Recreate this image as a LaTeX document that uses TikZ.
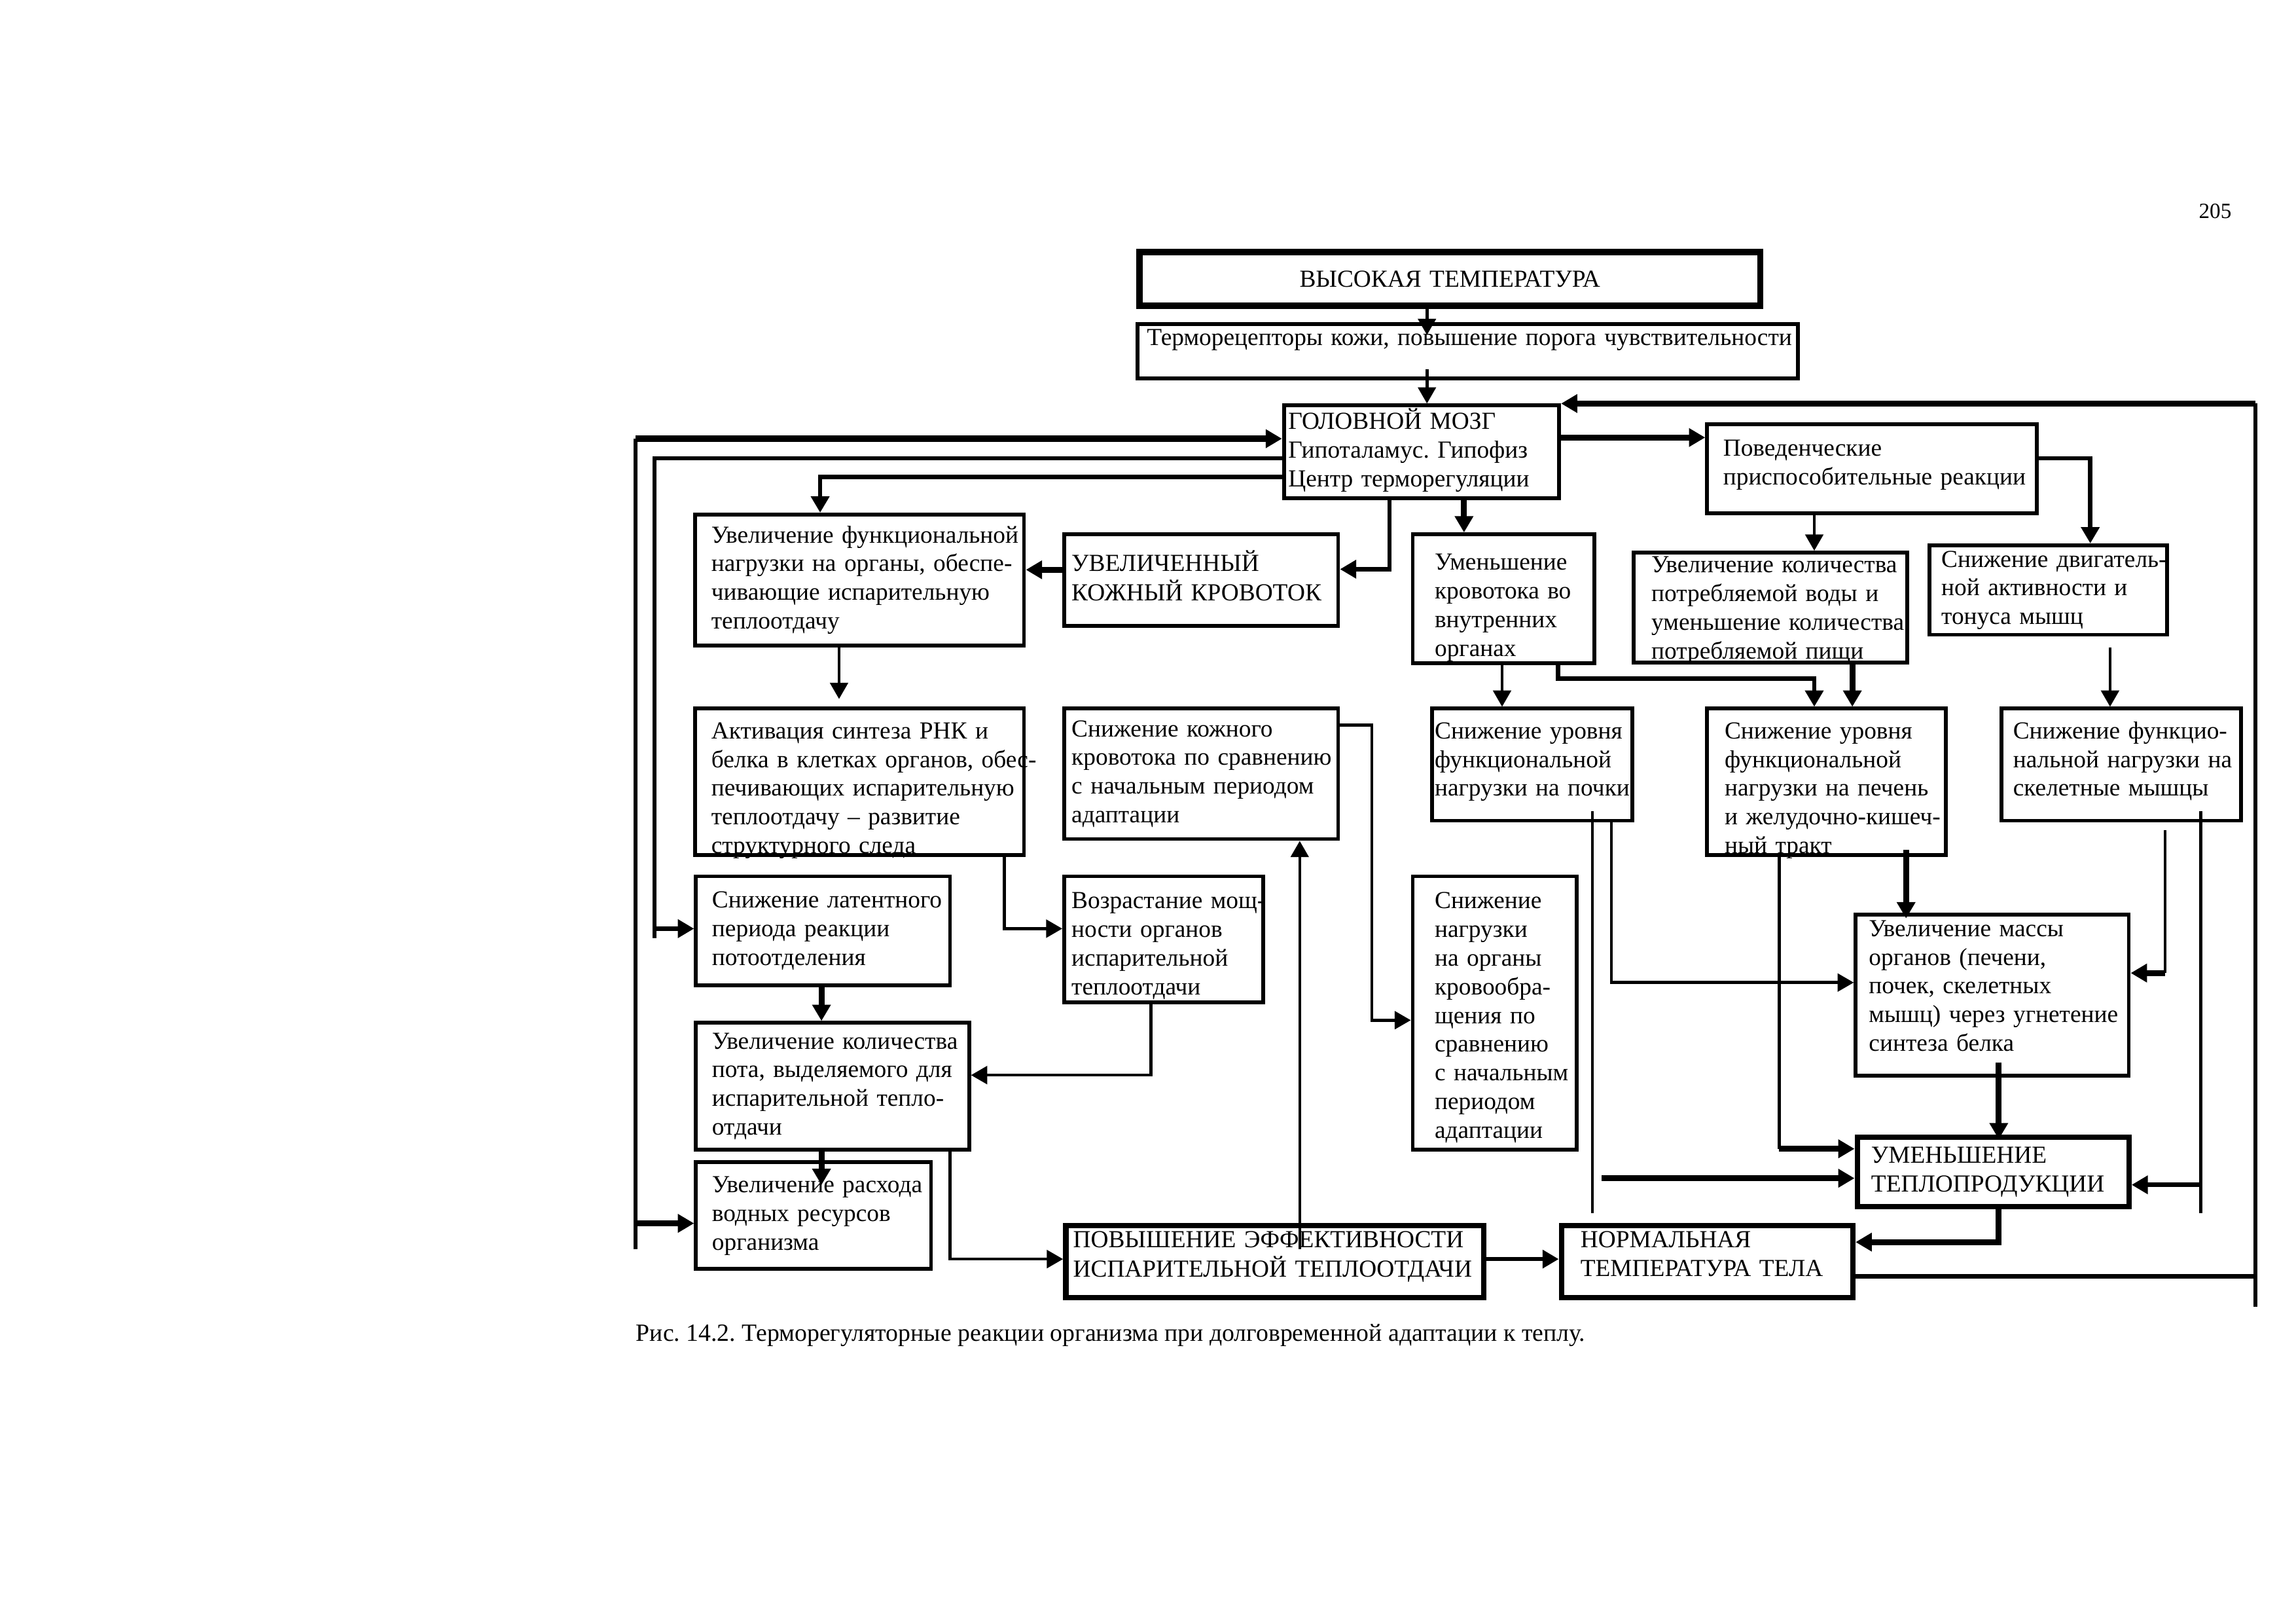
\documentclass[tikz,border=0pt]{standalone}
\usepackage{fontspec}
\setmainfont{Liberation Serif}
\usepackage{tikz}
\usetikzlibrary{calc,arrows.meta}
\newcommand{\pu}{0.18941mm}
\newcommand{\ls}[1]{\begin{tabular}[t]{@{}l@{}}#1\end{tabular}}
\frenchspacing

\begin{document}
\begin{tikzpicture}[x=\pu, y=-\pu, >={Triangle[length=2.1mm,width=2.3mm]}]
	\tikzset{
	    box/.style={draw, line width=1.4pt, anchor=north west, inner xsep=10*\pu, inner ysep=0pt, font=\fontsize{9}{10.55}\selectfont},
	    boldbox/.style={box, line width=2pt},
	    thinln/.style={line width=1.1pt},
	    midln/.style={line width=1.6pt},
	    thickln/.style={line width=2.2pt}
	}
	\useasboundingbox (0,0) rectangle (1568,1108);

	\node[anchor=base east, inner sep=0pt, font=\fontsize{8}{9.6}\selectfont] (pagenum) at (1524.3,149) {205};

	\node[boldbox, line width=2.3pt, align=center, text width=404*\pu, minimum height=36.5*\pu] (high) at (776,170) {ВЫСОКАЯ ТЕМПЕРАТУРА};
	\node[box, inner xsep=6.5*\pu, text width=438*\pu, text height=2.78mm, text depth=4.22mm] (recep) at (775.5,220) {\mbox{Терморецепторы кожи, повышение порога чувствительности}};
	\node[box, inner xsep=3*\pu, text width=182*\pu, minimum height=63.5*\pu] (brain) at (875.5,275.5) {\ls{ГОЛОВНОЙ МОЗГ\\Гипоталамус. Гипофиз\\Центр терморегуляции}};
	\node[box, inner xsep=11*\pu, text width=203*\pu, text height=4.07mm, text depth=7.39mm] (behav) at (1164.5,288.5) {\ls{Поведенческие\\приспособительные реакции}};

	\node[box, inner xsep=11*\pu, text width=202.5*\pu, minimum height=89.5*\pu] (func) at (473.5,350) {\ls{Увеличение функциональной\\нагрузки на органы, обеспе-\\чивающие испарительную\\теплоотдачу}};
	\node[box, inner xsep=5*\pu, text width=177*\pu, minimum height=62.5*\pu] (skin) at (725.5,363.5) {\ls{УВЕЛИЧЕННЫЙ\\КОЖНЫЙ КРОВОТОК}};
	\node[box, inner xsep=15*\pu, text width=94*\pu, text height=4.64mm, text depth=12.03mm] (inner) at (963.5,363.5) {\ls{Уменьшение\\кровотока во\\внутренних\\органах}};
	\node[box, inner xsep=12*\pu, text width=162.5*\pu, minimum height=75*\pu, text depth=11.6mm] (water) at (1114.5,376) {\ls{Увеличение количества\\потребляемой воды и\\уменьшение количества\\потребляемой пищи}};
	\node[box, inner xsep=8*\pu, text width=146*\pu, minimum height=61*\pu] (motor) at (1316.5,371) {\ls{Снижение двигатель-\\ной активности и\\тонуса мышц}};

	\node[box, inner xsep=11*\pu, text width=202.5*\pu, text height=3.88mm, text depth=15.06mm] (rna) at (473.5,482.5) {\ls{Активация синтеза РНК и\\белка в клетках органов, обес-\\печивающих испарительную\\теплоотдачу – развитие\\структурного следа}};
	\node[box, inner xsep=5*\pu, text width=177*\pu, minimum height=89*\pu] (skinlow) at (725.5,482.5) {\ls{Снижение кожного\\кровотока по сравнению\\с начальным периодом\\адаптации}};
	\node[box, inner xsep=2*\pu, text width=133*\pu, text height=3.88mm, text depth=10.61mm] (kidney) at (976.5,482.5) {\ls{Снижение уровня\\функциональной\\нагрузки на почки}};
	\node[box, inner xsep=12*\pu, text width=139*\pu, text height=3.88mm, text depth=15.06mm] (liver) at (1164.5,482.5) {\ls{Снижение уровня\\функциональной\\нагрузки на печень\\и желудочно-кишеч-\\ный тракт}};
	\node[box, inner xsep=8*\pu, text width=147.5*\pu, text height=3.88mm, text depth=10.61mm] (muscle) at (1365.5,482.5) {\ls{Снижение функцио-\\нальной нагрузки на\\скелетные мышцы}};

	\node[box, inner xsep=11*\pu, text width=151.5*\pu, minimum height=74.5*\pu] (latent) at (474,597) {\ls{Снижение латентного\\периода реакции\\потоотделения}};
	\node[box, inner xsep=5*\pu, text width=126*\pu, text height=4.17mm, text depth=12.12mm] (power) at (725.5,597) {\ls{Возрастание мощ-\\ности органов\\испарительной\\теплоотдачи}};
	\node[box, inner xsep=15*\pu, text width=82*\pu, text height=4.17mm, text depth=31.16mm] (blood) at (963.5,597) {\ls{Снижение\\нагрузки\\на органы\\кровообра-\\щения по\\сравнению\\с начальным\\периодом\\адаптации}};
	\node[box, inner xsep=9*\pu, text width=168.5*\pu, text height=2.84mm, text depth=17.99mm] (mass) at (1266,623) {\ls{Увеличение массы\\органов (печени,\\почек, скелетных\\мышц) через угнетение\\синтеза белка}};
	\node[box, inner xsep=11*\pu, text width=164.5*\pu, minimum height=86.5*\pu] (sweat) at (474,697) {\ls{Увеличение количества\\пота, выделяемого для\\испарительной тепло-\\отдачи}};
	\node[box, inner xsep=11*\pu, text width=138.5*\pu, minimum height=73*\pu] (waterres) at (474,792) {\ls{Увеличение расхода\\водных ресурсов\\организма}};

	\node[boldbox, inner xsep=9.5*\pu, text width=166.5*\pu, minimum height=47.5*\pu] (prod) at (1266.5,774.5) {\ls{УМЕНЬШЕНИЕ\\ТЕПЛОПРОДУКЦИИ}};
	\node[boldbox, inner xsep=5*\pu, text width=275.5*\pu, text height=2.84mm, text depth=6.44mm] (evap) at (726,835) {\ls{ПОВЫШЕНИЕ ЭФФЕКТИВНОСТИ\\ИСПАРИТЕЛЬНОЙ ТЕПЛООТДАЧИ}};
	\node[boldbox, inner xsep=13*\pu, text width=173*\pu, text height=2.84mm, text depth=6.44mm] (normal) at (1064.5,835) {\ls{НОРМАЛЬНАЯ\\ТЕМПЕРАТУРА ТЕЛА}};

	\node[anchor=base west, inner sep=0pt, font=\fontsize{9.1}{10.5}\selectfont] (caption) at (434,915.6) {Рис. 14.2. Терморегуляторные реакции организма при долговременной адаптации к теплу.};

	% top of the scheme
	\draw[thinln,->] (high.south -| 974.5,0) -- ($(recep.north -| 974.5,0)+(0,8.7)$);
	\draw[thinln,->] ($(recep.south -| 974.5,0)+(0,-7.4)$) -- (brain.north -| 974.5,0);
	\draw[thickln,->] (brain.east |- 0,298.7) -- (behav.west |- 0,298.7);
	\draw[thinln,->] (behav.south -| 1239,0) -- (water.north -| 1239,0);
	\draw[midln,->] (behav.east |- 0,312.9) -| (motor.north -| 1427.5,0);

	% feedback loops
	\coordinate (rtop) at (1540.3,275.5);
	\coordinate (rbot) at (1540.3,892);
	\draw[midln] (normal.east |- 0,871.5) -- (rbot |- 0,871.5);
	\draw[midln] (rbot) -- (rtop);
	\draw[thickln,->] (rtop) -- (brain.north east);
	\coordinate (ltop) at (434,299.5);
	\coordinate (lbot) at (434,853);
	\coordinate (lwr) at (434,835.2);
	\draw[midln] (lbot) -- (ltop);
	\draw[thickln,->] (ltop) -- (brain.west |- ltop);
	\draw[thickln,->] (lwr) -- (waterres.west |- lwr);
	\coordinate (lat) at (446.9,634);
	\draw[midln] (brain.west |- 0,312.9) -| (446.9,640.5);
	\draw[midln,->] (lat) -- (latent.west |- lat);
	\draw[midln,->] (brain.west |- 0,325.6) -| (func.north -| 560.1,0);

	% left part
	\draw[midln,->] (brain.south -| 948.9,0) |- (skin.east |- 0,388.6);
	\draw[thickln,->] (skin.west |- 0,389) -- (func.east |- 0,389);
	\draw[thinln,->,shorten >=1mm] (func.south -| 573,0) -- (rna.north -| 573,0);
	\draw[thinln,->] (rna.south -| 686,0) |- (power.west |- 0,634);
	\draw[thickln,->] (latent.south -| 561,0) -- (sweat.north -| 561,0);
	\draw[thinln,->] (power.south -| 786,0) |- (sweat.east |- 0,734);
	\draw[thickln,->] (sweat.south -| 561,0) -- ($(waterres.north -| 561,0)+(0,17)$);
	\draw[thinln,->] (sweat.south -| 648.8,0) |- (evap.west |- 0,859.6);
	\draw[thinln,->] ($(evap.north -| 887.6,0)+(0,18)$) -- (skinlow.south -| 887.6,0);
	\draw[thinln,->] (skinlow.east |- 0,495) -- (936.9,495) |- (blood.west |- 0,696.5);

	% right part
	\draw[thickln,->] (brain.south -| 999.8,0) -- (inner.north -| 999.8,0);
	\draw[thinln,->] (inner.south -| 1025.8,0) -- (kidney.north -| 1025.8,0);
	\draw[midln,->] (inner.south -| 1064,0) |- (1239,463.3) -- (liver.north -| 1239,0);
	\draw[thickln,->] (water.south -| 1265,0) -- (liver.north -| 1265,0);
	\draw[thinln,->,shorten <=1.4mm] (motor.south -| 1441,0) -- (muscle.north -| 1441,0);
	\draw[thinln,->] (kidney.south -| 1100.5,0) |- (mass.west |- 0,670.8);
	\coordinate (kbot) at (1087.5,828.4);
	\draw[thinln] ($(kidney.south -| kbot)+(0,-7.6)$) -- (kbot);
	\coordinate (karr) at (1093.8,804.4);
	\draw[thickln,->] (karr) -- (prod.west |- karr);
	\draw[thickln,->] ($(liver.south -| 1301.7,0)+(0,-4.8)$) -- ($(mass.north -| 1301.7,0)+(0,4)$);
	\coordinate (lpb) at (1215,784.3);
	\draw[thinln] (liver.south -| lpb) -- (lpb);
	\draw[thickln,->] (lpb) -- (prod.west |- lpb);
	\coordinate (mmb) at (1478.6,664.3);
	\draw[thinln,shorten <=1mm] (muscle.south -| mmb) -- (mmb);
	\draw[thickln,->] (mmb) -- (mass.east |- mmb);
	\coordinate (mpb) at (1503,828.4);
	\coordinate (mpa) at (1503,808.9);
	\draw[thinln] ($(muscle.south -| mpb)+(0,-7.6)$) -- (mpb);
	\draw[midln,->] (mpa) -- (prod.east |- mpa);
	\draw[thickln,->] ($(mass.south -| 1365,0)+(0,-10.3)$) -- ($(prod.north -| 1365,0)+(0,3.3)$);
	\draw[thickln,->] (prod.south -| 1365,0) |- (normal.east |- 0,848);
	\draw[midln,->] (evap.east |- 0,859.6) -- (normal.west |- 0,859.6);
\end{tikzpicture}
\end{document}
